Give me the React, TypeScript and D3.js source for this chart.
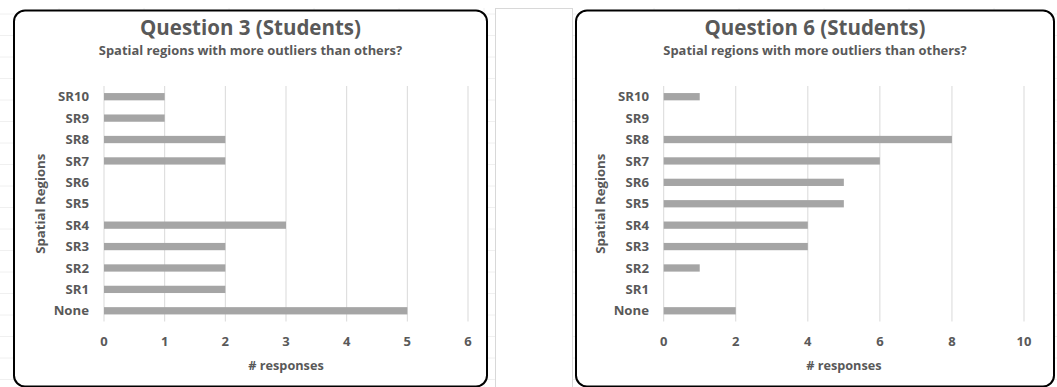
import React from "react";
import * as d3 from "d3";

const categories = ["SR10", "SR9", "SR8", "SR7", "SR6", "SR5", "SR4", "SR3", "SR2", "SR1", "None"];
const q3Values = [1, 1, 2, 2, 0, 0, 3, 2, 2, 2, 5];
const q6Values = [1, 0, 8, 6, 5, 5, 4, 4, 1, 0, 2];
const q3Ticks = [0, 1, 2, 3, 4, 5, 6];
const q6Ticks = [0, 2, 4, 6, 8, 10];
const q3Title = "Question 3 (Students)";
const q6Title = "Question 6 (Students)";
const subtitle = "Spatial regions with more outliers than others?";
const xTitle = "# responses";
const yTitle = "Spatial Regions";

const W = 1057;
const H = 387;
const FONT = "'Open Sans', 'DejaVu Sans', sans-serif";
const TXT = "#595959";

type PanelProps = {
  x0: number;
  x1: number;
  plotL: number;
  plotR: number;
  values: number[];
  ticks: number[];
  title: string;
  ylabX: number;
  ytitleX: number;
};

function Panel({ x0, x1, plotL, plotR, values, ticks, title, ylabX, ytitleX }: PanelProps) {
  const top = 10.5;
  const bottom = 386.5;
  const plotT = 86;
  const plotB = 321.5;
  const x = d3.scaleLinear().domain([ticks[0], ticks[ticks.length - 1]]).range([plotL, plotR]);
  const y = d3.scaleBand<string>().domain(categories).range([plotT, plotB]).paddingInner(0.66).paddingOuter(0.33);
  const cx = (x0 + x1) / 2;
  const r = 11;
  return (
    <g>
      <rect x={x0} y={top} width={x1 - x0} height={bottom - top} rx={r} fill="#fff" stroke="#000" strokeWidth={2} />
      <text x={cx} y={34.5} textAnchor="middle" fontFamily={FONT} fontWeight={700} fontSize={20.5} fill={TXT}>
        {title}
      </text>
      <text x={cx} y={55} textAnchor="middle" fontFamily={FONT} fontWeight={700} fontSize={12.9} fill={TXT}>
        {subtitle}
      </text>
      {ticks.map((t) => (
        <line key={"g" + t} x1={x(t)} x2={x(t)} y1={plotT} y2={plotB} stroke="#d9d9d9" strokeWidth={1} />
      ))}
      {categories.map((c, i) => (
        <rect key={"b" + c} x={x(0)} y={y(c)} width={x(values[i]) - x(0)} height={y.bandwidth()} fill="#a5a5a5" />
      ))}
      {categories.map((c) => (
        <text
          key={"l" + c}
          x={ylabX}
          y={(y(c) as number) + y.bandwidth() / 2}
          dy="0.35em"
          textAnchor="end"
          fontFamily={FONT}
          fontWeight={700}
          fontSize={13.2}
          fill={TXT}
        >
          {c}
        </text>
      ))}
      {ticks.map((t) => (
        <text key={"t" + t} x={x(t)} y={345.5} textAnchor="middle" fontFamily={FONT} fontWeight={700} fontSize={13} fill={TXT}>
          {t}
        </text>
      ))}
      <text x={(plotL + plotR) / 2} y={369.5} textAnchor="middle" fontFamily={FONT} fontWeight={700} fontSize={12.7} fill={TXT}>
        {xTitle}
      </text>
      <text
        transform={`translate(${ytitleX},${(plotT + plotB) / 2}) rotate(-90)`}
        textAnchor="middle"
        dy="0.35em"
        fontFamily={FONT}
        fontWeight={700}
        fontSize={13.2}
        fill={TXT}
      >
        {yTitle}
      </text>
    </g>
  );
}

export default function App() {
  const hLines = d3.range(14, H, 21.5);
  const vLines = d3.range(59, W, 85);
  return (
    <div style={{ position: "fixed", left: 0, top: 0 }}>
      <svg width={W} height={H} style={{ display: "block", background: "#fff" }}>
        {hLines.map((v) => (
          <line key={"h" + v} x1={0} x2={W} y1={v} y2={v} stroke="#f0f0f0" strokeWidth={1} />
        ))}
        {vLines.map((v) => (
          <line key={"v" + v} x1={v} x2={v} y1={8} y2={H} stroke="#f0f0f0" strokeWidth={1} />
        ))}
        <rect x={495.5} y={8.5} width={77} height={H} fill="#fff" stroke="#d8d8d8" strokeWidth={1} />
        <Panel x0={14} x1={487} plotL={104} plotR={468} values={q3Values} ticks={q3Ticks} title={q3Title} ylabX={89} ytitleX={40} />
        <Panel x0={576} x1={1054} plotL={663.7} plotR={1024} values={q6Values} ticks={q6Ticks} title={q6Title} ylabX={649} ytitleX={600} />
      </svg>
    </div>
  );
}
